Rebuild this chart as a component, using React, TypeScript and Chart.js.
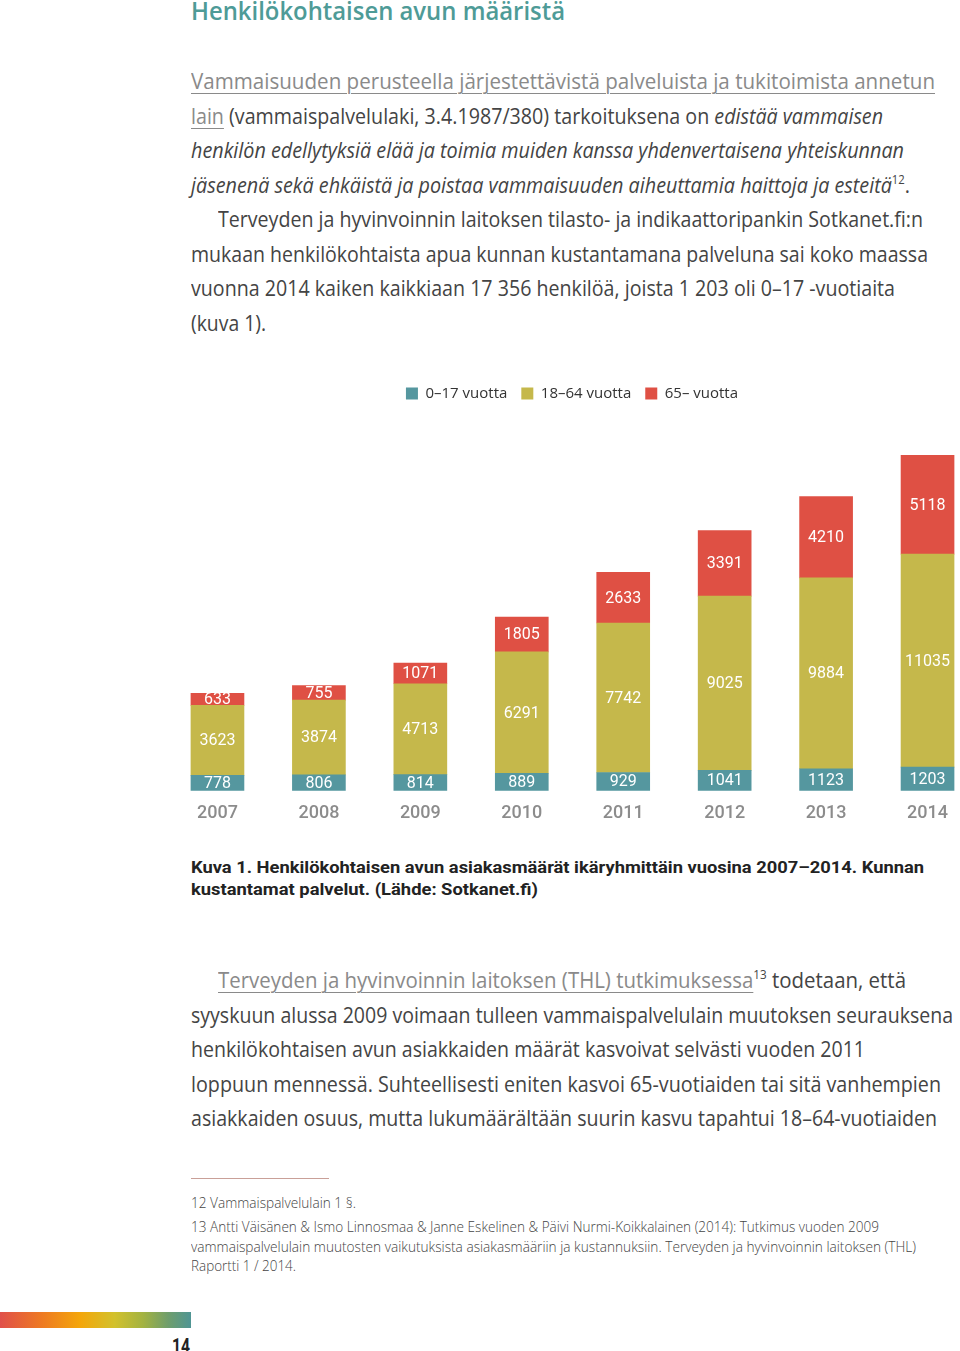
import React, { useEffect, useLayoutEffect, useRef } from 'react';
import { Chart, registerables } from 'chart.js';

Chart.register(...registerables);

// ---- data ----
const years = ['2007', '2008', '2009', '2010', '2011', '2012', '2013', '2014'];
const age0to17 = [778, 806, 814, 889, 929, 1041, 1123, 1203];
const age18to64 = [3623, 3874, 4713, 6291, 7742, 9025, 9884, 11035];
const age65plus = [633, 755, 1071, 1805, 2633, 3391, 4210, 5118];
const seriesLabels = ['0–17 vuotta', '18–64 vuotta', '65– vuotta'];
const seriesColors = ['#55979f', '#c5b84b', '#df5044'];
const yMax = 19656;

const BODY = '"Open Sans", "Noto Sans", sans-serif';
const COND = 'Roboto, "Noto Sans", sans-serif';
const TEXT = '#444444';
const LINK = '#8a8a8a';

type LineProps = {
  x: number;
  base: number;
  size: number;
  target?: number;
  weight?: number;
  family?: string;
  asc?: number;
  color?: string;
  italic?: boolean;
  children?: React.ReactNode;
};

function Line({ x, base, size, target, weight = 400, family = BODY, asc = 0.888, color = TEXT, italic, children }: LineProps) {
  const ref = useRef<HTMLDivElement>(null);
  useLayoutEffect(() => {
    const fit = () => {
      const el = ref.current;
      if (!el || !target) return;
      el.style.transform = 'none';
      const w = el.getBoundingClientRect().width;
      if (w > 0) el.style.transform = `scaleX(${target / w})`;
    };
    fit();
    if ((document as any).fonts && (document as any).fonts.ready) {
      (document as any).fonts.ready.then(fit);
    }
  }, [target]);
  return (
    <div
      ref={ref}
      style={{
        position: 'absolute',
        left: x,
        top: base - asc * size,
        fontSize: size,
        lineHeight: '1',
        whiteSpace: 'nowrap',
        transformOrigin: '0 0',
        fontFamily: family,
        fontWeight: weight,
        fontStyle: italic ? 'italic' : 'normal',
        color,
      }}
    >
      {children}
    </div>
  );
}

const link: React.CSSProperties = {
  color: LINK,
  textDecoration: 'underline',
  textDecorationThickness: '1px',
  textUnderlineOffset: '4px',
};

function Sup({ children }: { children: React.ReactNode }) {
  return (
    <span style={{ fontSize: 12, position: 'relative', top: -9, fontStyle: 'normal' }}>{children}</span>
  );
}

const valueLabels = {
  id: 'valueLabels',
  afterDatasetsDraw(chart: any) {
    const ctx = chart.ctx;
    ctx.save();
    ctx.fillStyle = '#ffffff';
    ctx.font = '400 16px Roboto, sans-serif';
    ctx.textAlign = 'center';
    ctx.textBaseline = 'middle';
    chart.data.datasets.forEach((ds: any, i: number) => {
      const meta = chart.getDatasetMeta(i);
      meta.data.forEach((el: any, j: number) => {
        const p = el.getProps(['x', 'y', 'base'], true);
        ctx.fillText(String(ds.data[j]), p.x, (p.y + p.base) / 2 + 1);
      });
    });
    ctx.restore();
  },
};

function BarChart() {
  const canvasRef = useRef<HTMLCanvasElement>(null);
  useEffect(() => {
    if (!canvasRef.current) return;
    const series = [age0to17, age18to64, age65plus];
    const chart = new Chart(canvasRef.current, {
      type: 'bar',
      data: {
        labels: years,
        datasets: series.map((d, i) => ({
          label: seriesLabels[i],
          data: d,
          backgroundColor: seriesColors[i],
          borderWidth: 0,
          barThickness: 53,
          clip: false as any,
        })),
      },
      options: {
        animation: false,
        responsive: false,
        devicePixelRatio: 1,
        layout: { padding: { left: 31, right: 32, top: 0, bottom: 0 } },
        plugins: {
          legend: {
            position: 'top',
            labels: {
              boxWidth: 12,
              boxHeight: 12,
              padding: 14,
              color: '#333333',
              font: { family: BODY, size: 15, weight: 400 as any },
            },
          },
          tooltip: { enabled: false },
        },
        scales: {
          x: {
            stacked: true,
            offset: false,
            grid: { display: false, drawTicks: false },
            border: { display: false },
            ticks: {
              color: '#8c8c8c',
              font: { family: COND, size: 18, weight: 500 as any },
              padding: 12,
              maxRotation: 0,
              autoSkip: false,
            },
          },
          y: { stacked: true, display: false, min: 0, max: yMax },
        },
      },
      plugins: [valueLabels],
    });
    return () => chart.destroy();
  }, []);
  return (
    <div style={{ position: 'absolute', left: 185, top: 372, width: 775, height: 464 }}>
      <canvas ref={canvasRef} width={775} height={464} style={{ width: 775, height: 464 }} />
    </div>
  );
}

export default function App() {
  const p1 = [90, 124.5, 159, 193.5, 228, 262.5, 297, 331.5];
  const p2 = [989, 1023.5, 1058, 1092.5, 1127];
  return (
    <div
      style={{
        position: 'absolute',
        left: 0,
        top: 0,
        width: 960,
        height: 1351,
        overflow: 'hidden',
        background: '#ffffff',
      }}
    >
      <Line x={191} base={20} size={25} weight={600} color="#4e9b97" target={374}>
        Henkilökohtaisen avun määristä
      </Line>

      <Line x={191} base={p1[0]} size={21} target={744}>
        <span style={link}>Vammaisuuden perusteella järjestettävistä palveluista ja tukitoimista annetun </span>
      </Line>
      <Line x={191} base={p1[1]} size={21} target={692}>
        <span style={link}>lain</span> (vammaispalvelulaki, 3.4.1987/380) tarkoituksena on{' '}
        <i>edistää vammaisen</i>
      </Line>
      <Line x={191} base={p1[2]} size={21} target={713} italic>
        henkilön edellytyksiä elää ja toimia muiden kanssa yhdenvertaisena yhteiskunnan
      </Line>
      <Line x={191} base={p1[3]} size={21} target={719}>
        <i>jäsenenä sekä ehkäistä ja poistaa vammaisuuden aiheuttamia haittoja ja esteitä</i>
        <Sup>12</Sup>.
      </Line>
      <Line x={218} base={p1[4]} size={21} target={705}>
        Terveyden ja hyvinvoinnin laitoksen tilasto- ja indikaattoripankin Sotkanet.fi:n
      </Line>
      <Line x={191} base={p1[5]} size={21} target={737}>
        mukaan henkilökohtaista apua kunnan kustantamana palveluna sai koko maassa
      </Line>
      <Line x={191} base={p1[6]} size={21} target={704}>
        vuonna 2014 kaiken kaikkiaan 17 356 henkilöä, joista 1 203 oli 0–17 -vuotiaita
      </Line>
      <Line x={191} base={p1[7]} size={21} target={75}>
        (kuva 1).
      </Line>

      <BarChart />

      <Line x={191} base={873.5} size={17} weight={700} family={COND} asc={0.8415} color="#222222" target={733}>
        Kuva 1. Henkilökohtaisen avun asiakasmäärät ikäryhmittäin vuosina 2007–2014. Kunnan
      </Line>
      <Line x={191} base={895.5} size={17} weight={700} family={COND} asc={0.8415} color="#222222" target={347}>
        kustantamat palvelut. (Lähde: Sotkanet.fi)
      </Line>

      <Line x={218} base={p2[0]} size={21} target={688}>
        <span style={link}>Terveyden ja hyvinvoinnin laitoksen (THL) tutkimuksessa</span>
        <Sup>13</Sup> todetaan, että
      </Line>
      <Line x={191} base={p2[1]} size={21} target={762}>
        syyskuun alussa 2009 voimaan tulleen vammaispalvelulain muutoksen seurauksena
      </Line>
      <Line x={191} base={p2[2]} size={21} target={674}>
        henkilökohtaisen avun asiakkaiden määrät kasvoivat selvästi vuoden 2011
      </Line>
      <Line x={191} base={p2[3]} size={21} target={750}>
        loppuun mennessä. Suhteellisesti eniten kasvoi 65-vuotiaiden tai sitä vanhempien
      </Line>
      <Line x={191} base={p2[4]} size={21} target={746}>
        asiakkaiden osuus, mutta lukumäärältään suurin kasvu tapahtui 18–64-vuotiaiden
      </Line>

      <div style={{ position: 'absolute', left: 191, top: 1178, width: 138, height: 1, background: '#c9a098' }} />

      <Line x={191} base={1208} size={14} weight={300} color="#444444" target={165}>
        12 Vammaispalvelulain 1 §.
      </Line>
      <Line x={191} base={1232} size={14} weight={300} color="#444444" target={688}>
        13 Antti Väisänen &amp; Ismo Linnosmaa &amp; Janne Eskelinen &amp; Päivi Nurmi-Koikkalainen (2014): Tutkimus vuoden 2009
      </Line>
      <Line x={191} base={1252} size={14} weight={300} color="#444444" target={725}>
        vammaispalvelulain muutosten vaikutuksista asiakasmääriin ja kustannuksiin. Terveyden ja hyvinvoinnin laitoksen (THL)
      </Line>
      <Line x={191} base={1271} size={14} weight={300} color="#444444" target={105}>
        Raportti 1 / 2014.
      </Line>

      <div
        style={{
          position: 'absolute',
          left: 0,
          top: 1312,
          width: 191,
          height: 16,
          background:
            'linear-gradient(to right, #e0504a 0%, #ee7a22 22%, #f4a60a 42%, #d2c12c 60%, #a3b342 75%, #6f9e6c 88%, #4f9594 100%)',
        }}
      />
      <Line x={172} base={1354} size={21} weight={700} family={COND} asc={0.8415} color="#222222" target={18}>
        14
      </Line>
    </div>
  );
}
